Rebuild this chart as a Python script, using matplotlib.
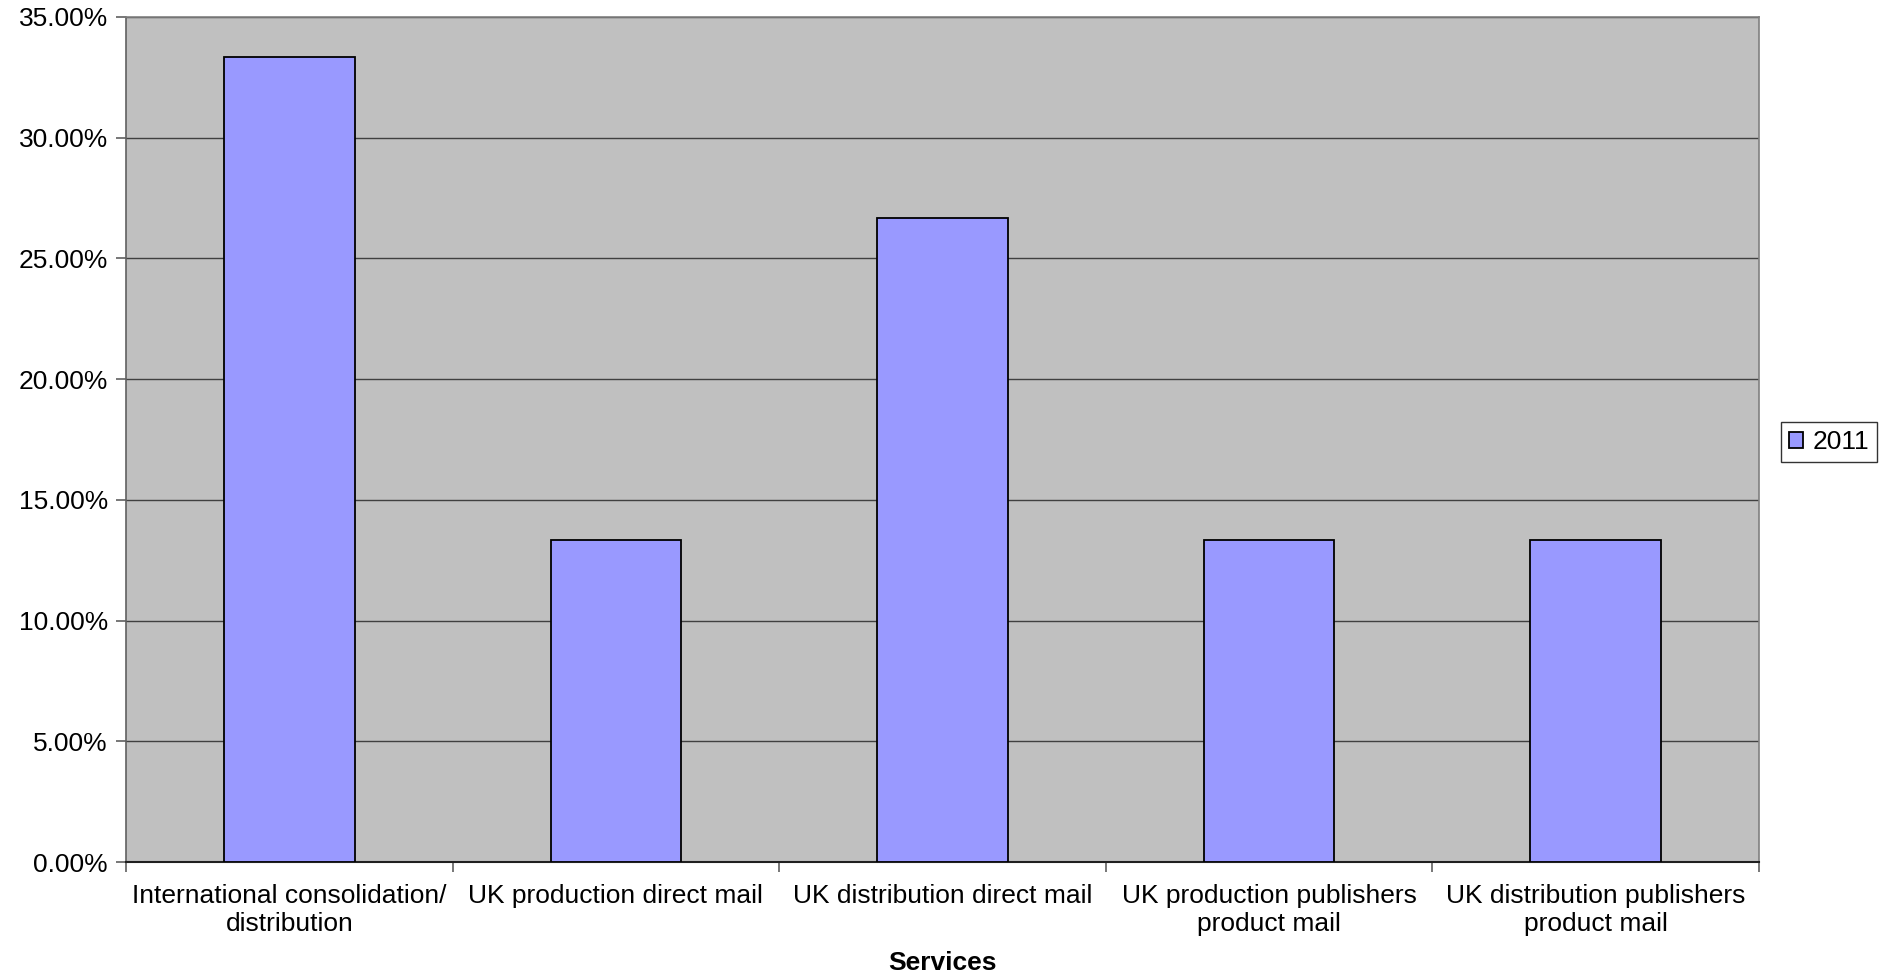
import numpy as np
import matplotlib.pyplot as plt
from matplotlib.ticker import FuncFormatter, FixedLocator

plt.rcParams['font.family'] = ['Liberation Sans', 'DejaVu Sans']

services = ["International consolidation/\ndistribution",
            "UK production direct mail",
            "UK distribution direct mail",
            "UK production publishers\nproduct mail",
            "UK distribution publishers\nproduct mail"]
share_2011 = [33.33, 13.33, 26.67, 13.33, 13.33]

fs = 19

fig = plt.figure(figsize=(18.83, 9.76), dpi=100)
ax = fig.add_axes([126 / 1883, 1 - 862 / 976, (1759 - 126) / 1883, (862 - 17) / 976])
ax.set_facecolor("#C0C0C0")

x = np.arange(len(services))
bars = ax.bar(x, share_2011, width=0.4, color="#9999FF", edgecolor="black",
              linewidth=1.3, label="2011", zorder=3)

ax.set_xlim(-0.5, len(services) - 0.5)
ax.set_ylim(0, 35)
ax.set_yticks(np.arange(0, 36, 5))
ax.yaxis.set_major_formatter(FuncFormatter(lambda v, p: f"{v:.2f}%"))
ax.yaxis.grid(True, color="#404040", linewidth=1.0, zorder=1)

# category labels in the middle, tick marks on the boundaries
ax.set_xticks(x)
ax.set_xticklabels(services, linespacing=1.2)
ax.tick_params(axis="x", length=0, pad=16, labelsize=fs)
ax.xaxis.set_minor_locator(FixedLocator(np.arange(-0.5, len(services), 1)))
ax.tick_params(axis="x", which="minor", length=7, width=1.2, color="#606060")
ax.tick_params(axis="y", length=7, width=1.2, color="#606060", labelsize=fs, pad=6)

for s in ["top", "right"]:
    ax.spines[s].set_color("#808080")
    ax.spines[s].set_linewidth(1.2)
ax.spines["left"].set_color("#606060")
ax.spines["left"].set_linewidth(1.2)
ax.spines["bottom"].set_color("#202020")
ax.spines["bottom"].set_linewidth(1.5)

ax.set_xlabel("Services", fontsize=fs, fontweight="bold", va="center")
ax.xaxis.set_label_coords(0.5, -0.12)

leg = ax.legend(loc="center left", bbox_to_anchor=(1.0135, 0.497), frameon=True,
                fancybox=False, edgecolor="black", fontsize=fs,
                handlelength=0.55, handleheight=0.55, handletextpad=0.35,
                borderpad=0.3, borderaxespad=0)
leg.get_frame().set_linewidth(1.0)

fig.savefig("out.png", dpi=100, facecolor="white")
